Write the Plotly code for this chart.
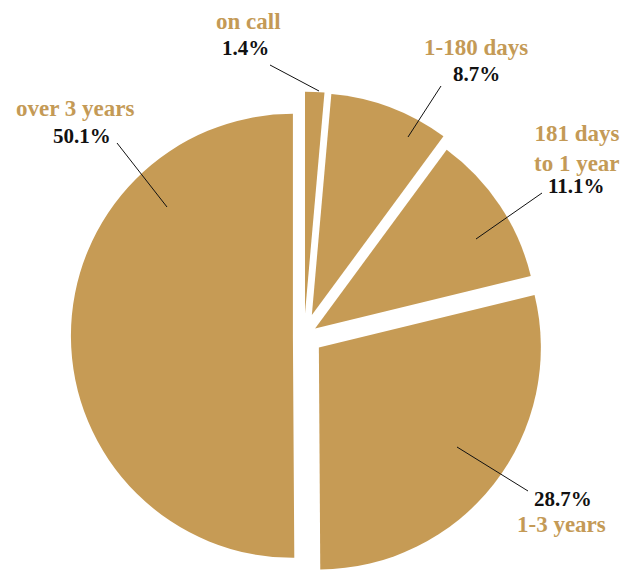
import plotly.graph_objects as go

# Data
categories = ["on call", "1-180 days", "181 days<br>to 1 year", "1-3 years", "over 3 years"]
shares = [1.4, 8.7, 11.1, 28.7, 50.1]
pct_labels = ["1.4%", "8.7%", "11.1%", "28.7%", "50.1%"]
pulls = [0.10, 0.10, 0.06, 0.085, 0.05]

W, H = 620, 580
GOLD = "#C69B55"
GOLD_TEXT = "#C49A56"
FONT = "Liberation Serif"

fig = go.Figure()
fig.add_trace(go.Pie(
    labels=categories,
    values=shares,
    sort=False,
    direction="clockwise",
    rotation=0,
    pull=pulls,
    marker=dict(colors=[GOLD] * len(shares), line=dict(width=0)),
    textinfo="none",
    hoverinfo="label+percent",
    showlegend=False,
    domain=dict(x=[44 / W, 564 / W], y=[0, 0.842]),
))

def px(x):
    return x / W

def py(y):
    return 1 - y / H

# label layout: (category center, pct center, leader start, leader end)
label_pos = [
    ((248, 22), (245, 48), (270, 65), (319, 91)),
    ((476, 47), (476, 74), (441, 86), (408, 137)),
    ((577, 148), (576, 186), (542, 193), (476, 239)),
    ((561, 524), (563, 499), (528, 491), (457, 447)),
    ((75, 108), (82, 136), (117, 143), (167, 207)),
]

annotations = []
shapes = []
for cat, pct, (cpos, ppos, l0, l1) in zip(categories, pct_labels, label_pos):
    annotations.append(dict(
        x=px(cpos[0]), y=py(cpos[1]), xref="paper", yref="paper",
        text=cat, showarrow=False, xanchor="center", yanchor="middle",
        font=dict(family=FONT, size=23, color=GOLD_TEXT, weight="bold"),
        align="right" if "<br>" in cat else "center",
    ))
    annotations.append(dict(
        x=px(ppos[0]), y=py(ppos[1]), xref="paper", yref="paper",
        text=pct, showarrow=False, xanchor="center", yanchor="middle",
        font=dict(family=FONT, size=21, color="#111111", weight="bold"),
    ))
    shapes.append(dict(
        type="line", xref="paper", yref="paper",
        x0=px(l0[0]), y0=py(l0[1]), x1=px(l1[0]), y1=py(l1[1]),
        line=dict(color="#111111", width=1),
    ))

fig.update_layout(
    width=W, height=H,
    margin=dict(l=0, r=0, t=0, b=0),
    paper_bgcolor="white",
    plot_bgcolor="white",
    annotations=annotations,
    shapes=shapes,
)

fig.write_html("out.html")
